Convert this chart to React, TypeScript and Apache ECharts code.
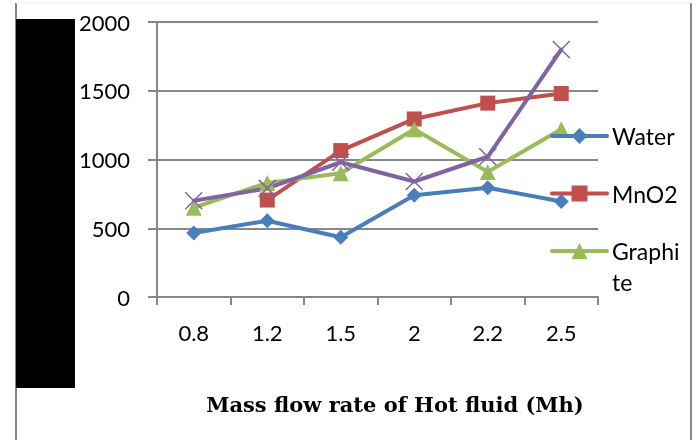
import React, { useEffect, useRef } from "react";
import * as echarts from "echarts";

// Mass flow rate categories and measured values per fluid
const categories = ["0.8", "1.2", "1.5", "2", "2.2", "2.5"];
const water = [465, 555, 435, 740, 795, 695];
const mno2 = [null, 705, 1065, 1295, 1410, 1480];
const graphite = [650, 830, 900, 1220, 910, 1220];
const hybrid = [700, 790, 980, 840, 1020, 1800];
const yTicks = { min: 0, max: 2000, interval: 500 };

const AXIS_GREY = "#878787";
const FONT = "Lato";

export default function App() {
  const ref = useRef<HTMLDivElement>(null);

  useEffect(() => {
    if (!ref.current) return;
    const chart = echarts.init(ref.current, undefined, { renderer: "svg" });

    const lineSeries = (name: string, data: (number | null)[], color: string, symbol: string, size: number) => ({
      name,
      type: "line",
      data,
      symbol,
      symbolSize: size,
      showSymbol: true,
      connectNulls: false,
      lineStyle: { color, width: 4, cap: "round", join: "round" },
      itemStyle: { color },
      emphasis: { disabled: true },
    });

    const legendBase = {
      orient: "vertical",
      left: 550,
      padding: 0,
      itemWidth: 55,
      itemHeight: 20,
      selectedMode: false,
      lineStyle: { width: 4, cap: "round" },
    };

    chart.setOption({
      animation: false,
      textStyle: { fontFamily: FONT },
      grid: { left: 157, right: 98, top: 22, bottom: 143, containLabel: false },
      xAxis: {
        type: "category",
        data: categories,
        boundaryGap: true,
        axisLine: { lineStyle: { color: AXIS_GREY, width: 2 } },
        axisTick: { show: true, length: 8, lineStyle: { color: AXIS_GREY, width: 2 } },
        axisLabel: { color: "#000", fontSize: 22, fontFamily: FONT, margin: 24 },
        splitLine: { show: false },
      },
      yAxis: {
        type: "value",
        min: yTicks.min,
        max: yTicks.max,
        interval: yTicks.interval,
        axisLine: { show: true, lineStyle: { color: AXIS_GREY, width: 2 } },
        axisTick: { show: true, length: 9, lineStyle: { color: AXIS_GREY, width: 2 } },
        axisLabel: { color: "#000", fontSize: 22, fontFamily: FONT, margin: 27, formatter: (v: number) => String(v) },
        splitLine: { show: true, lineStyle: { color: AXIS_GREY, width: 2 } },
      },
      legend: [
        {
          ...legendBase,
          data: ["Water", "MnO2"],
          top: 121,
          itemGap: 27.5,
          textStyle: { color: "#000", fontSize: 23, fontFamily: FONT, lineHeight: 30 },
        },
        {
          ...legendBase,
          data: ["Graphite"],
          top: 204.5,
          // wrapped label: the blank first line keeps "Graphi" level with the icon
          formatter: () => " \nGraphi\nte",
          textStyle: { color: "#000", fontSize: 23, fontFamily: FONT, lineHeight: 31 },
        },
      ],
      graphic: [
        { type: "line", shape: { x1: 16, y1: 3, x2: 16, y2: 440 }, style: { stroke: AXIS_GREY, lineWidth: 2 } },
        { type: "line", shape: { x1: 691, y1: 3, x2: 691, y2: 440 }, style: { stroke: AXIS_GREY, lineWidth: 2 } },
        { type: "line", shape: { x1: 16, y1: 3, x2: 691, y2: 3 }, style: { stroke: "#eeeeee", lineWidth: 1 } },
        { type: "rect", shape: { x: 16, y: 19, width: 59, height: 369 }, style: { fill: "#000" } },
        {
          type: "text",
          x: 395,
          y: 404,
          style: {
            text: "Mass flow rate of Hot fluid (Mh)",
            fontFamily: "DejaVu Serif",
            fontWeight: "bold",
            fontSize: 21,
            fill: "#000",
            align: "center",
            verticalAlign: "middle",
          },
        },
      ],
      series: [
        lineSeries("Water", water, "#4A7EBB", "diamond", 15),
        lineSeries("MnO2", mno2, "#C0504D", "rect", 15),
        lineSeries("Graphite", graphite, "#9BBB59", "triangle", 16),
        {
          ...lineSeries("Hybrid", hybrid, "#8064A2", "path://M0,0L10,10M10,0L0,10", 17),
          itemStyle: { color: "none", borderColor: "#8064A2", borderWidth: 1.5 },
        },
      ],
    });

    return () => chart.dispose();
  }, []);

  return <div ref={ref} style={{ position: "fixed", left: 0, top: 0, width: 696, height: 440 }} />;
}
